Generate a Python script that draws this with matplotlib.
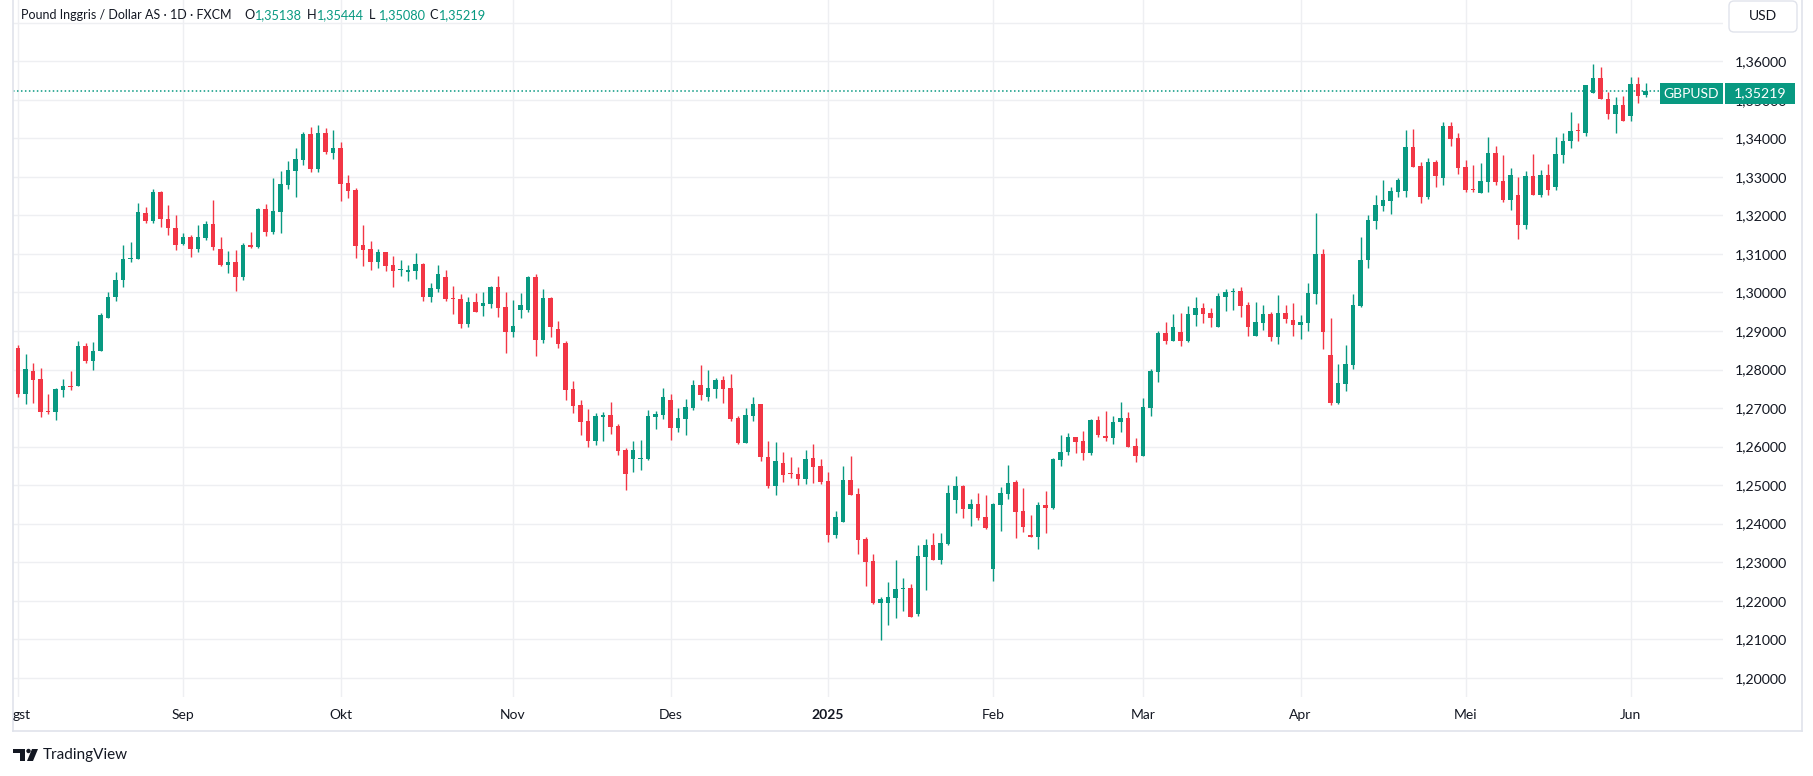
import numpy as np
import pandas as pd
import matplotlib
matplotlib.use('Agg')
import matplotlib.pyplot as plt
from matplotlib.patches import Rectangle, Polygon, Circle, FancyBboxPatch
from matplotlib.lines import Line2D
from matplotlib.transforms import IdentityTransform

"""GBPUSD daily candles, TradingView style (Indonesian locale)"""

W, H = 1813, 776
GREEN = '#089981'
RED = '#F23645'
TXT = '#131722'
GRID = '#eeeff2'

# trading days (FXCM, no bars on Dec 25 and Jan 1)
dates = pd.bdate_range('2024-08-01', '2025-06-04')
dates = dates.drop([pd.Timestamp('2024-12-25'), pd.Timestamp('2025-01-01')])

opens = [1.2857, 1.2736, 1.2797, 1.2776, 1.2692, 1.2691, 1.2748, 1.2758, 1.2756, 1.2862,
         1.2821, 1.2847, 1.2935, 1.2987, 1.3032, 1.3086, 1.3086, 1.3205, 1.3185, 1.3262,
         1.3192, 1.3168, 1.3125, 1.3145, 1.3112, 1.3141, 1.3177, 1.3113, 1.3072, 1.3079,
         1.3041, 1.3123, 1.3119, 1.3216, 1.3158, 1.3210, 1.3280, 1.3316, 1.3345, 1.3411,
         1.3320, 1.3414, 1.3363, 1.3375, 1.3284, 1.3267, 1.3123, 1.3114, 1.3080, 1.3104,
         1.3071, 1.3058, 1.3054, 1.3057, 1.3074, 1.2989, 1.3010, 1.3040, 1.2985, 1.2983,
         1.2919, 1.2975, 1.2965, 1.2970, 1.3014, 1.2962, 1.2898, 1.2955, 1.2955, 1.3040,
         1.2877, 1.2986, 1.2905, 1.2869, 1.2749, 1.2708, 1.2666, 1.2615, 1.2677, 1.2681,
         1.2653, 1.2590, 1.2568, 1.2568, 1.2567, 1.2677, 1.2682, 1.2720, 1.2648, 1.2672,
         1.2700, 1.2759, 1.2728, 1.2750, 1.2772, 1.2752, 1.2674, 1.2610, 1.2680, 1.2710,
         1.2572, 1.2499, 1.2558, 1.2530, 1.2529, 1.2517, 1.2571, 1.2550, 1.2511, 1.2371,
         1.2405, 1.2513, 1.2477, 1.2360, 1.2303, 1.2195, 1.2195, 1.2208, 1.2231, 1.2233,
         1.2166, 1.2314, 1.2345, 1.2306, 1.2347, 1.2462, 1.2497, 1.2438, 1.2450, 1.2417,
         1.2283, 1.2449, 1.2477, 1.2508, 1.2432, 1.2370, 1.2365, 1.2448, 1.2441, 1.2566,
         1.2587, 1.2625, 1.2615, 1.2584, 1.2670, 1.2627, 1.2623, 1.2663, 1.2675, 1.2601,
         1.2576, 1.2700, 1.2794, 1.2894, 1.2874, 1.2897, 1.2874, 1.2941, 1.2959, 1.2946,
         1.2910, 1.2988, 1.3001, 1.3003, 1.2967, 1.2887, 1.2920, 1.2944, 1.2884, 1.2946,
         1.2928, 1.2915, 1.2920, 1.2997, 1.3100, 1.2838, 1.2714, 1.2762, 1.2813, 1.2965,
         1.3084, 1.3186, 1.3225, 1.3238, 1.3262, 1.3264, 1.3378, 1.3328, 1.3249, 1.3339,
         1.3298, 1.3432, 1.3401, 1.3326, 1.3268, 1.3259, 1.3288, 1.3362, 1.3289, 1.3241,
         1.3254, 1.3174, 1.3303, 1.3252, 1.3305, 1.3275, 1.3358, 1.3392, 1.3420, 1.3415,
         1.3518, 1.3557, 1.3502, 1.3462, 1.3487, 1.3459, 1.3541, 1.35138]
highs = [1.2864, 1.2841, 1.2818, 1.2805, 1.2737, 1.2753, 1.2776, 1.2797, 1.2875, 1.2870,
         1.2872, 1.2948, 1.3000, 1.3054, 1.3122, 1.3132, 1.3231, 1.3223, 1.3268, 1.3264,
         1.3228, 1.3202, 1.3155, 1.3150, 1.3176, 1.3185, 1.3240, 1.3144, 1.3107, 1.3111,
         1.3128, 1.3157, 1.3220, 1.3229, 1.3297, 1.3315, 1.3341, 1.3375, 1.3417, 1.3429,
         1.3435, 1.3427, 1.3422, 1.3390, 1.3306, 1.3271, 1.3175, 1.3133, 1.3113, 1.3105,
         1.3095, 1.3084, 1.3071, 1.3103, 1.3077, 1.3025, 1.3071, 1.3058, 1.3017, 1.2996,
         1.2988, 1.2999, 1.3001, 1.3018, 1.3043, 1.3001, 1.2981, 1.2999, 1.3044, 1.3048,
         1.3009, 1.2989, 1.2926, 1.2875, 1.2771, 1.2722, 1.2697, 1.2687, 1.2689, 1.2715,
         1.2658, 1.2597, 1.2614, 1.2617, 1.2694, 1.2692, 1.2752, 1.2736, 1.2700, 1.2723,
         1.2772, 1.2811, 1.2798, 1.2777, 1.2783, 1.2788, 1.2679, 1.2700, 1.2728, 1.2710,
         1.2615, 1.2612, 1.2586, 1.2573, 1.2547, 1.2591, 1.2607, 1.2568, 1.2534, 1.2433,
         1.2550, 1.2576, 1.2493, 1.2365, 1.2321, 1.2210, 1.2248, 1.2306, 1.2259, 1.2243,
         1.2345, 1.2360, 1.2376, 1.2376, 1.2500, 1.2523, 1.2500, 1.2463, 1.2479, 1.2474,
         1.2453, 1.2495, 1.2552, 1.2513, 1.2492, 1.2422, 1.2456, 1.2484, 1.2570, 1.2630,
         1.2636, 1.2625, 1.2641, 1.2672, 1.2680, 1.2693, 1.2680, 1.2717, 1.2690, 1.2622,
         1.2726, 1.2801, 1.2900, 1.2923, 1.2944, 1.2946, 1.2965, 1.2988, 1.2972, 1.2959,
         1.2998, 1.3009, 1.3011, 1.3014, 1.2975, 1.2975, 1.2967, 1.2949, 1.2993, 1.2967,
         1.2972, 1.2941, 1.3024, 1.3206, 1.3113, 1.2934, 1.2814, 1.2864, 1.2996, 1.3144,
         1.3201, 1.3253, 1.3292, 1.3274, 1.3297, 1.3422, 1.3424, 1.3339, 1.3349, 1.3344,
         1.3442, 1.3442, 1.3414, 1.3344, 1.3331, 1.3336, 1.3403, 1.3380, 1.3357, 1.3324,
         1.3300, 1.3316, 1.3360, 1.3318, 1.3334, 1.3404, 1.3414, 1.3469, 1.3440, 1.3539,
         1.3593, 1.3585, 1.3521, 1.3508, 1.3510, 1.3559, 1.3559, 1.35444]
lows = [1.2730, 1.2710, 1.2712, 1.2676, 1.2684, 1.2668, 1.2730, 1.2748, 1.2756, 1.2816,
        1.2800, 1.2847, 1.2933, 1.2977, 1.3013, 1.3078, 1.3086, 1.3181, 1.3181, 1.3169,
        1.3148, 1.3111, 1.3123, 1.3091, 1.3104, 1.3136, 1.3111, 1.3069, 1.3051, 1.3004,
        1.3033, 1.3116, 1.3116, 1.3147, 1.3152, 1.3155, 1.3268, 1.3248, 1.3331, 1.3313,
        1.3313, 1.3359, 1.3346, 1.3238, 1.3245, 1.3090, 1.3069, 1.3059, 1.3064, 1.3055,
        1.3013, 1.3044, 1.3031, 1.3035, 1.2979, 1.2976, 1.3002, 1.2979, 1.2945, 1.2909,
        1.2911, 1.2950, 1.2940, 1.2961, 1.2936, 1.2844, 1.2885, 1.2934, 1.2949, 1.2836,
        1.2870, 1.2885, 1.2857, 1.2722, 1.2688, 1.2630, 1.2599, 1.2604, 1.2615, 1.2633,
        1.2578, 1.2487, 1.2535, 1.2540, 1.2565, 1.2646, 1.2671, 1.2617, 1.2638, 1.2630,
        1.2695, 1.2720, 1.2719, 1.2726, 1.2713, 1.2667, 1.2607, 1.2610, 1.2667, 1.2563,
        1.2493, 1.2475, 1.2509, 1.2519, 1.2501, 1.2504, 1.2506, 1.2504, 1.2353, 1.2363,
        1.2405, 1.2475, 1.2322, 1.2239, 1.2192, 1.2099, 1.2138, 1.2156, 1.2174, 1.2158,
        1.2161, 1.2229, 1.2306, 1.2294, 1.2345, 1.2428, 1.2415, 1.2394, 1.2410, 1.2386,
        1.2250, 1.2381, 1.2464, 1.2363, 1.2378, 1.2365, 1.2334, 1.2376, 1.2438, 1.2550,
        1.2579, 1.2584, 1.2566, 1.2577, 1.2626, 1.2614, 1.2608, 1.2637, 1.2599, 1.2560,
        1.2576, 1.2680, 1.2768, 1.2867, 1.2874, 1.2861, 1.2872, 1.2913, 1.2920, 1.2910,
        1.2910, 1.2952, 1.2954, 1.2936, 1.2887, 1.2887, 1.2902, 1.2874, 1.2866, 1.2920,
        1.2887, 1.2879, 1.2900, 1.2971, 1.2854, 1.2709, 1.2711, 1.2745, 1.2802, 1.2962,
        1.3063, 1.3166, 1.3212, 1.3204, 1.3249, 1.3249, 1.3326, 1.3233, 1.3243, 1.3275,
        1.3280, 1.3381, 1.3308, 1.3262, 1.3262, 1.3259, 1.3262, 1.3280, 1.3236, 1.3213,
        1.3140, 1.3166, 1.3252, 1.3249, 1.3252, 1.3267, 1.3335, 1.3376, 1.3392, 1.3407,
        1.3518, 1.3501, 1.3449, 1.3415, 1.3444, 1.3446, 1.3493, 1.35080]
closes = [1.2736, 1.2802, 1.2774, 1.2691, 1.2691, 1.2750, 1.2758, 1.2754, 1.2862, 1.2821,
          1.2849, 1.2942, 1.2989, 1.3033, 1.3088, 1.3088, 1.3210, 1.3185, 1.3262, 1.3190,
          1.3167, 1.3123, 1.3145, 1.3112, 1.3145, 1.3177, 1.3119, 1.3072, 1.3079, 1.3041,
          1.3123, 1.3119, 1.3216, 1.3158, 1.3211, 1.3281, 1.3318, 1.3346, 1.3411, 1.3320,
          1.3414, 1.3365, 1.3375, 1.3282, 1.3264, 1.3121, 1.3111, 1.3080, 1.3104, 1.3069,
          1.3057, 1.3059, 1.3058, 1.3074, 1.2989, 1.3012, 1.3048, 1.2984, 1.2984, 1.2919,
          1.2975, 1.2950, 1.2973, 1.3015, 1.2961, 1.2898, 1.2913, 1.2968, 1.3040, 1.2877,
          1.2986, 1.2911, 1.2867, 1.2748, 1.2706, 1.2665, 1.2615, 1.2679, 1.2681, 1.2651,
          1.2589, 1.2530, 1.2590, 1.2570, 1.2679, 1.2684, 1.2728, 1.2648, 1.2674, 1.2702,
          1.2759, 1.2733, 1.2752, 1.2772, 1.2750, 1.2672, 1.2610, 1.2681, 1.2710, 1.2573,
          1.2499, 1.2563, 1.2527, 1.2529, 1.2517, 1.2568, 1.2548, 1.2509, 1.2371, 1.2417,
          1.2513, 1.2475, 1.2358, 1.2301, 1.2195, 1.2204, 1.2210, 1.2230, 1.2232, 1.2158,
          1.2316, 1.2345, 1.2306, 1.2350, 1.2480, 1.2497, 1.2438, 1.2450, 1.2415, 1.2389,
          1.2450, 1.2479, 1.2505, 1.2430, 1.2391, 1.2365, 1.2448, 1.2441, 1.2568, 1.2586,
          1.2625, 1.2613, 1.2584, 1.2670, 1.2631, 1.2623, 1.2664, 1.2675, 1.2600, 1.2576,
          1.2702, 1.2796, 1.2894, 1.2874, 1.2910, 1.2874, 1.2944, 1.2959, 1.2944, 1.2933,
          1.2990, 1.3001, 1.3003, 1.2965, 1.2910, 1.2923, 1.2944, 1.2884, 1.2946, 1.2931,
          1.2915, 1.2923, 1.2998, 1.3100, 1.2898, 1.2714, 1.2765, 1.2814, 1.2967, 1.3084,
          1.3188, 1.3227, 1.3240, 1.3263, 1.3292, 1.3378, 1.3326, 1.3249, 1.3339, 1.3303,
          1.3432, 1.3399, 1.3324, 1.3267, 1.3267, 1.3289, 1.3362, 1.3288, 1.3241, 1.3305,
          1.3174, 1.3303, 1.3252, 1.3305, 1.3267, 1.3360, 1.3394, 1.3419, 1.3419, 1.3539,
          1.3557, 1.3501, 1.3462, 1.3487, 1.3444, 1.3541, 1.3511, 1.35219]

month_labels = ['gst', 'Sep', 'Okt', 'Nov', 'Des', '2025', 'Feb', 'Mar', 'Apr', 'Mei', 'Jun']
price_ticks = [1.20, 1.21, 1.22, 1.23, 1.24, 1.25, 1.26, 1.27, 1.28,
               1.29, 1.30, 1.31, 1.32, 1.33, 1.34, 1.35, 1.36, 1.37]

plt.rcParams['font.family'] = ['Lato', 'DejaVu Sans']

o = np.array(opens)
h = np.array(highs)
l = np.array(lows)
c = np.array(closes)
x = np.arange(len(dates))
up = c >= o
cols = np.where(up, GREEN, RED)

fig = plt.figure(figsize=(W / 100, H / 100), dpi=100)
fig.patch.set_facecolor('white')

# plot area in pixels: x 13..1723, y 0..697 (from top)
ax = fig.add_axes([13 / W, (H - 697) / H, (1723 - 13) / W, 697 / H])
ax.set_facecolor('white')

# first bar of each month -> vertical grid
month_start = [0] + [i for i in range(1, len(dates)) if dates[i].month != dates[i - 1].month]

ax.set_xticks(month_start)
ax.set_xticklabels([])
ax.set_yticks(price_ticks)
ax.set_yticklabels([f'{v:.5f}'.replace('.', ',') if v < 1.365 else '' for v in price_ticks])
ax.grid(True, color=GRID, linewidth=1.0, zorder=0)
ax.set_axisbelow(True)
ax.yaxis.tick_right()
ax.tick_params(axis='y', length=0, pad=8.5, labelsize=10.2, labelcolor=TXT)
ax.tick_params(axis='x', length=0)
for s in ax.spines.values():
    s.set_visible(False)

# candles
ax.vlines(x, l, h, colors=cols, linewidth=1.0, zorder=2)
body = np.maximum(np.abs(c - o), 0.00026)
ax.bar(x, body, bottom=np.minimum(o, c), width=0.66, color=cols, linewidth=0, zorder=3)

# last price line
ax.axhline(c[-1], color=GREEN, linestyle=(0, (1, 1.6)), linewidth=1.1, zorder=1)

ax.set_xlim(-0.667, 227.33)
ax.set_ylim(1.19501, 1.37591)

# month labels under the plot
for lab, i in zip(month_labels, month_start):
    if lab == 'gst':
        fig.text(13 / W, 1 - 715 / H, lab, ha='left', va='center', fontsize=10, color=TXT)
    else:
        ax.text(i, -0.026, lab, transform=ax.get_xaxis_transform(), ha='center', va='center',
                fontsize=10, color=TXT, fontweight='bold' if lab == '2025' else 'normal',
                clip_on=False)


def px_rect(x0, y0, x1, y1, **kw):
    r = Rectangle((x0, H - y1), x1 - x0, y1 - y0, transform=IdentityTransform(), **kw)
    fig.add_artist(r)
    return r


def ftext(px, py, s, **kw):
    return fig.text(px / W, 1 - py / H, s, **kw)


# panel border
fig.add_artist(Line2D([12.7 / W, 12.7 / W], [1, 1 - 731 / H], color='#e0e3eb', lw=1.2))
fig.add_artist(Line2D([12.7 / W, 1802 / W], [1 - 731 / H, 1 - 731 / H], color='#e0e3eb', lw=1.2))
fig.add_artist(Line2D([1802 / W, 1802 / W], [1, 1 - 731 / H], color='#e0e3eb', lw=1.2))

# legend line at top
ftext(20.7, 15, 'Pound Inggris / Dollar AS · 1D · FXCM', ha='left', va='center', fontsize=9.0, color=TXT)
for lx, vx, key, val in [(244, 254, 'O', '1,35138'), (307, 316, 'H', '1,35444'),
                         (369, 378, 'L', '1,35080'), (429, 438, 'C', '1,35219')]:
    ftext(lx, 15, key, ha='left', va='center', fontsize=9.2, color=TXT)
    ftext(vx, 15, val, ha='left', va='center', fontsize=9.2, color=GREEN)

# USD box
usd = FancyBboxPatch((1729, H - 32), 68, 31, boxstyle='round,pad=0,rounding_size=5',
                     transform=IdentityTransform(), fc='white', ec='#e0e3eb', lw=1.0, zorder=4)
fig.add_artist(usd)
ftext(1763, 16, 'USD', ha='center', va='center', fontsize=10, color=TXT, zorder=5)

# last price tag
px_rect(1660, 83, 1723, 104, fc=GREEN, ec='none', zorder=4)
px_rect(1725, 83, 1795, 104, fc=GREEN, ec='none', zorder=4)
ftext(1691.5, 93.5, 'GBPUSD', ha='center', va='center', fontsize=10, color='white', zorder=5)
ftext(1760, 93.5, f'{c[-1]:.5f}'.replace('.', ','), ha='center', va='center', fontsize=10.2,
      color='white', zorder=5)

# TradingView logo
logo = [
    Polygon([(13, H - 749), (25, H - 749), (25, H - 761), (20, H - 761), (20, H - 753), (13, H - 753)],
            closed=True, transform=IdentityTransform(), fc=TXT, ec='none'),
    Circle((28.5, H - 751), 2.2, transform=IdentityTransform(), fc=TXT, ec='none'),
    Polygon([(32, H - 749), (38, H - 749), (33, H - 761), (27, H - 761)],
            closed=True, transform=IdentityTransform(), fc=TXT, ec='none'),
]
for p in logo:
    fig.add_artist(p)
ftext(43, 755, 'TradingView', ha='left', va='center', fontsize=11, color=TXT)

fig.savefig('out.png', dpi=100, facecolor='white')
